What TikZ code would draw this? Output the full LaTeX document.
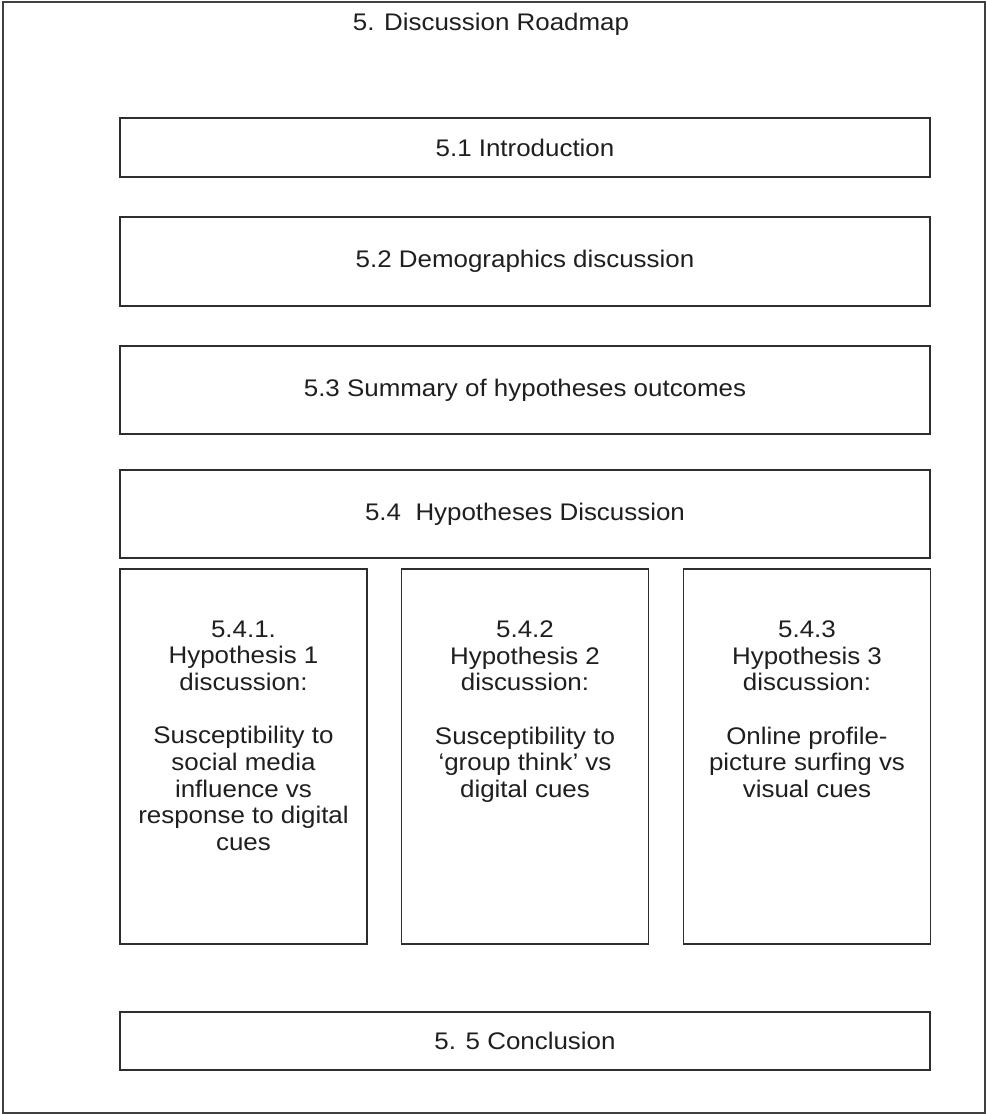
\documentclass[tikz,border=0pt]{standalone}
\usepackage{fontspec}
\setmainfont{Liberation Sans}[FakeStretch=1.08]
\usetikzlibrary{calc}
\begin{document}
\begin{tikzpicture}[x=1pt, y=-1pt,
  bodyfont/.style={font=\fontsize{24}{26.7}\selectfont, text=black!88},
  frame/.style={draw=black!75, line width=1.2pt},
  box/.style={draw=black!82, line width=1.3pt, fill=white, inner sep=0pt,
              align=center, bodyfont},
  wide/.style={box, minimum width=810pt},
  column/.style={box, minimum width=247pt, minimum height=375pt},
  coltext/.style={anchor=north, align=center, inner sep=0pt, bodyfont}]
\useasboundingbox (0,0) rectangle (986,1114);

% outer page frame and heading
\node[frame, minimum width=982pt, minimum height=1111pt, inner sep=0pt] (page) at (494,557.5) {};
\node[bodyfont, inner sep=0pt] (title) at (491,24) {5. Discussion Roadmap};

% full-width section boxes
\node[wide, minimum height=59pt] (intro) at (525,147.5) {5.1 Introduction};
\node[wide, minimum height=89pt] (demo)  at (525,261.5) {\raisebox{-2pt}{5.2 Demographics discussion}};
\node[wide, minimum height=88pt] (summ)  at (525,390)   {\raisebox{-1pt}{5.3 Summary of hypotheses outcomes}};
\node[wide, minimum height=88pt] (hyp)   at (525,514)   {\raisebox{-1pt}{5.4\hspace{0.6em}Hypotheses Discussion}};

% hypothesis sub-sections
\node[column] (h1) at (243.5,756.5) {};
\node[column] (h2) at (525,756.5) {};
\node[column] (h3) at (807,756.5) {};

\node[coltext] (t1) at ($(h1.north)+(0,52)$) {5.4.1.\\Hypothesis 1\\discussion:\\[26.7pt]Susceptibility to\\social media\\influence vs\\response to digital\\cues};
\node[coltext] (t2) at ($(h2.north)+(0,52)$) {5.4.2\\Hypothesis 2\\discussion:\\[26.7pt]Susceptibility to\\‘group think’ vs\\digital cues};
\node[coltext] (t3) at ($(h3.north)+(0,52)$) {5.4.3\\Hypothesis 3\\discussion:\\[26.7pt]Online profile-\\picture surfing vs\\visual cues};

% closing section
\node[wide, minimum height=58pt] (concl) at (525,1041) {5. 5 Conclusion};
\end{tikzpicture}
\end{document}
